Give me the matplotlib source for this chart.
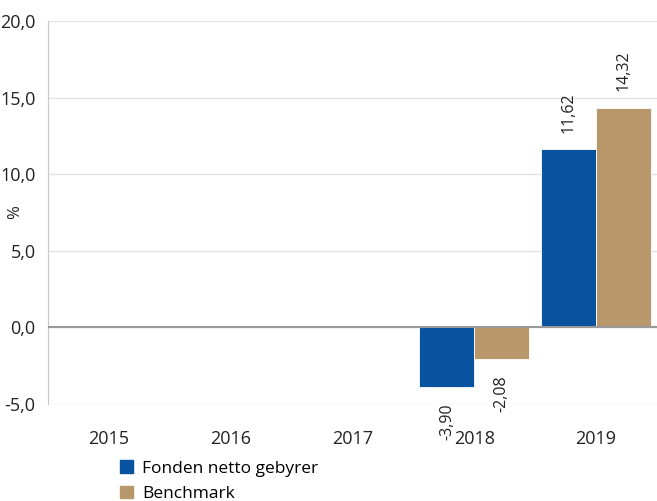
import numpy as np
import matplotlib.pyplot as plt
from matplotlib.patches import Patch

plt.rcParams["font.family"] = ["Open Sans", "DejaVu Sans"]

years = ["2015", "2016", "2017", "2018", "2019"]
fonden = [np.nan, np.nan, np.nan, -3.90, 11.62]
benchmark = [np.nan, np.nan, np.nan, -2.08, 14.32]
series_names = ["Fonden netto gebyrer", "Benchmark"]
blue = "#07539F"
tan = "#B8986A"

fig = plt.figure(figsize=(6.57, 5.01), dpi=100)
ax = fig.add_axes([0.073, 0.194, 0.927, 0.764])

x = np.arange(len(years))
w = 0.45
b1 = ax.bar(x - w / 2, fonden, w, color=blue, edgecolor="white", linewidth=0.6, zorder=3)
b2 = ax.bar(x + w / 2, benchmark, w, color=tan, edgecolor="white", linewidth=0.6, zorder=3)

def fmt(v):
    return f"{v:.2f}".replace(".", ",")

for bars, vals in ((b1, fonden), (b2, benchmark)):
    for r, v in zip(bars, vals):
        if np.isnan(v):
            continue
        cx = r.get_x() + r.get_width() / 2
        if v >= 0:
            ax.annotate(fmt(v), (cx, v), xytext=(0, 12), textcoords="offset points",
                        rotation=90, ha="center", va="bottom", fontsize=11.5, color="#222222")
        else:
            ax.annotate(fmt(v), (cx, v), xytext=(0, -12), textcoords="offset points",
                        rotation=90, ha="center", va="top", fontsize=11.5, color="#222222")

ax.set_xlim(-0.5, len(years) - 0.5)
ax.set_ylim(-5, 20)
ax.set_yticks([-5, 0, 5, 10, 15, 20])
ax.set_yticklabels(["-5,0", "0,0", "5,0", "10,0", "15,0", "20,0"])
ax.set_xticks(x)
ax.set_xticklabels(years)
ax.tick_params(axis="both", length=0, labelsize=13, colors="#222222")
ax.tick_params(axis="x", pad=19)
ax.tick_params(axis="y", pad=9)

ax.grid(axis="y", color="#e3e3e3", lw=1, zorder=0)
ax.axhline(0, color="#999999", lw=1.5, zorder=4)
for s in ["top", "right", "bottom"]:
    ax.spines[s].set_visible(False)
ax.spines["left"].set_color("#c8c8c8")
ax.set_ylabel("%", fontsize=12, color="#222222")
ax.yaxis.set_label_coords(-0.04, 0.5)

handles = [Patch(color=blue), Patch(color=tan)]
fig.legend(handles, series_names, loc="upper left", bbox_to_anchor=(0.182, 0.081),
           frameon=False, fontsize=12.5, handlelength=0.75, handleheight=0.75,
           handletextpad=0.55, labelspacing=0.5, borderaxespad=0, borderpad=0)

fig.savefig("out.png", dpi=100)
